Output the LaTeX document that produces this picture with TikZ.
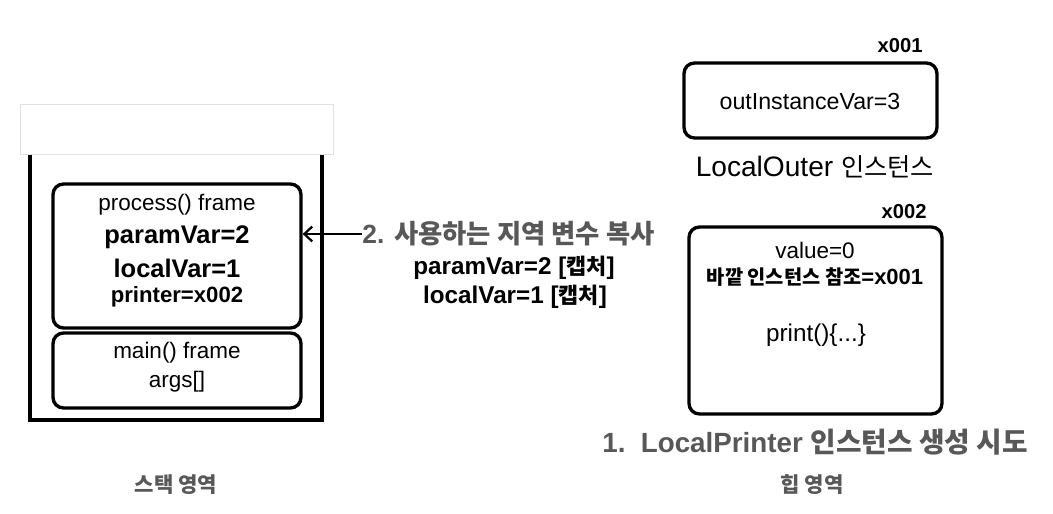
\documentclass[tikz,border=0pt]{standalone}
\usepackage{fontspec}
\setmainfont{Liberation Sans}
\newfontfamily\ko[Scale=0.9]{Noto Sans CJK KR}
\newfontfamily\kow{Noto Sans CJK KR}
\usepackage{xcolor}
\usepackage{tikz}
\usetikzlibrary{arrows.meta}
\definecolor{notegray}{RGB}{88,88,88}
\tikzstyle{frame}=[draw=black, line width=1.9pt, rounded corners=6pt, inner sep=0pt]
\tikzstyle{stack body}=[draw=black, line width=1.9pt, inner sep=0pt]
\tikzstyle{lid}=[draw=black!12, fill=white, line width=0.5pt, inner sep=0pt]
\tikzstyle{small text}=[inner sep=0pt, font=\fontsize{12.8}{15}\selectfont]
\tikzstyle{var text}=[inner sep=0pt, font=\bfseries\fontsize{14.5}{17}\selectfont]
\tikzstyle{copy text}=[inner sep=0pt, font=\bfseries\fontsize{13.8}{16}\selectfont]
\tikzstyle{addr text}=[inner sep=0pt, font=\bfseries\fontsize{11.5}{14}\selectfont]
\tikzstyle{note text}=[inner sep=0pt, text=notegray, font=\bfseries\fontsize{15}{18}\selectfont]
\tikzstyle{area text}=[inner sep=0pt, text=notegray, font=\bfseries\fontsize{12}{14}\selectfont]
\tikzstyle{arrow edge}=[-{Straight Barb[length=4.5pt, width=8.5pt]}, line width=1.3pt]
\pgfdeclarelayer{nodelayer}
\pgfdeclarelayer{edgelayer}
\pgfsetlayers{nodelayer,edgelayer,main}

\begin{document}
\begin{tikzpicture}
	\useasboundingbox (0, 0) rectangle (21.06, -10.28);
	\begin{pgfonlayer}{nodelayer}
		% stack
		\node [style=stack body, minimum width=5.84cm, minimum height=5.6cm] (0) at (3.52, -5.6) {};
		\node [style=lid, minimum width=6.26cm, minimum height=1cm] (1) at (3.53, -2.58) {};
		\node [style=frame, minimum width=4.96cm, minimum height=2.88cm] (2) at (3.54, -5.12) {};
		\node [style=frame, minimum width=4.96cm, minimum height=1.5cm] (3) at (3.54, -7.41) {};
		\node [style=small text] (4) at (3.54, -4.1) {process() frame};
		\node [style=var text] (5) at (3.54, -4.74) {paramVar=2};
		\node [style=var text] (6) at (3.54, -5.36) {localVar=1};
		\node [style=small text, font=\bfseries\fontsize{12.6}{15}\selectfont] (7) at (3.54, -5.94) {printer=x002};
		\node [style=small text] (8) at (3.54, -7.06) {main() frame};
		\node [style=small text] (9) at (3.54, -7.64) {args[]};
		\node [style=area text] (10) at (3.52, -9.7) {{\kow 스택 영역}};
		% copied locals
		\node [style=note text, anchor=west] (11) at (7.24, -4.68) {2. {\kow 사용하는 지역 변수 복사}};
		\node [style=copy text] (12) at (10.28, -5.36) {paramVar=2 [{\ko 캡처}]};
		\node [style=copy text] (13) at (10.3, -5.94) {localVar=1 [{\ko 캡처}]};
		% heap
		\node [style=addr text, anchor=east] (14) at (18.46, -0.92) {x001};
		\node [style=frame, minimum width=5.06cm, minimum height=1.5cm] (15) at (16.21, -2.01) {};
		\node [style=small text, font=\fontsize{13.2}{16}\selectfont] (16) at (16.2, -2.04) {outInstanceVar=3};
		\node [style=small text, font=\fontsize{16}{19}\selectfont] (17) at (16.3, -3.34) {LocalOuter {\ko 인스턴스}};
		\node [style=addr text, anchor=east] (18) at (18.54, -4.24) {x002};
		\node [style=frame, minimum width=5.06cm, minimum height=3.74cm] (19) at (16.31, -6.41) {};
		\node [style=small text] (20) at (16.3, -5.0) {value=0};
		\node [style=small text, font=\bfseries\fontsize{12.5}{15}\selectfont] (21) at (16.3, -5.54) {{\ko 바깥 인스턴스 참조}=x001};
		\node [style=small text, font=\fontsize{13.8}{16}\selectfont] (22) at (16.32, -6.7) {print()\{...\}};
		\node [style=note text, font=\bfseries\fontsize{15.8}{19}\selectfont] (23) at (16.3, -8.84) {1.\ \ LocalPrinter {\kow 인스턴스 생성 시도}};
		\node [style=area text] (24) at (16.24, -9.7) {{\kow 힙 영역}};
	\end{pgfonlayer}
	\begin{pgfonlayer}{edgelayer}
		\draw [style=arrow edge] (11.west) to (11.west -| 2.east);
	\end{pgfonlayer}
\end{tikzpicture}
\end{document}
